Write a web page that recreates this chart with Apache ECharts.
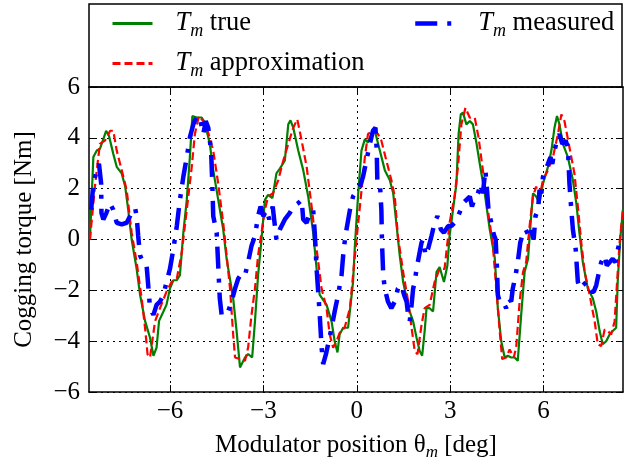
<!DOCTYPE html>
<html>
<head>
<meta charset="utf-8">
<script src="https://cdn.jsdelivr.net/npm/echarts@6/dist/echarts.min.js"></script>
<style>html,body{margin:0;padding:0;background:#fff;}#c{width:636px;height:466px;}</style>
</head>
<body>
<div id="c"></div>
<script>
// ---- data ----
const xTicks = [-6, -3, 0, 3, 6];
const yTicks = [-6, -4, -2, 0, 2, 4, 6];

const trueX = [-8.57,-8.46,-8.35,-8.25,-8.14,-8.05,-7.96,-7.82,-7.71,-7.55,-7.44,-7.34,-7.23,-7.07,-6.96,-6.8,-6.64,-6.53,-6.43,-6.35,-6.21,-6.11,-6.0,-5.89,-5.78,-5.68,-5.57,-5.46,-5.36,-5.28,-5.14,-4.98,-4.88,-4.72,-4.61,-4.45,-4.29,-4.18,-3.97,-3.86,-3.75,-3.59,-3.49,-3.36,-3.27,-3.17,-3.06,-2.95,-2.85,-2.71,-2.58,-2.47,-2.31,-2.2,-2.13,-2.04,-1.88,-1.72,-1.56,-1.4,-1.27,-1.19,-0.97,-0.81,-0.71,-0.62,-0.55,-0.44,-0.28,-0.12,-0.06,0.04,0.15,0.26,0.36,0.47,0.58,0.74,0.9,1.06,1.17,1.27,1.38,1.49,1.6,1.7,1.81,1.92,2.02,2.1,2.18,2.24,2.34,2.45,2.56,2.66,2.8,2.91,2.98,3.09,3.2,3.27,3.34,3.41,3.52,3.63,3.73,3.84,3.95,4.11,4.27,4.43,4.53,4.64,4.75,4.85,4.96,5.07,5.17,5.28,5.39,5.5,5.6,5.66,5.76,5.87,5.98,6.14,6.25,6.35,6.43,6.51,6.62,6.78,6.94,7.05,7.15,7.26,7.42,7.58,7.69,7.8,7.9,8.01,8.12,8.22,8.33,8.38,8.46,8.55];
const trueY = [0,3.25,3.5,3.57,3.95,4.28,4.08,3.37,2.86,2.6,2.1,1.17,0,-1.15,-2.17,-3.2,-3.86,-4.57,-4.25,-3.2,-2.83,-2.56,-1.93,-1.6,-1.6,-1.4,0.27,1.56,3.25,4.86,4.8,4.8,4.6,3.76,2.73,1.56,0.4,-0.76,-2.31,-3.6,-5.03,-4.64,-4.5,-4.64,-3.22,-1.41,0,1.56,1.76,1.63,2.6,2.79,3.11,4.53,4.69,4.4,3.5,2.73,1.69,0.27,-1.41,-2.18,-2.57,-3.22,-4.0,-4.44,-3.73,-3.47,-3.47,-1.67,-0.24,1.7,3.5,3.95,3.82,4.15,4.28,3.5,2.73,2.34,1.82,0.66,-0.63,-1.67,-2.31,-2.83,-3.22,-3.86,-4.38,-4.57,-3.6,-2.7,-2.7,-2.83,-1.28,-1.08,-1.67,-1.02,0.14,1.17,2.2,4.15,4.92,4.99,4.53,4.66,4.53,3.82,2.98,1.82,0.4,-0.7,-2.7,-4.0,-4.64,-4.57,-4.64,-4.64,-4.77,-2.96,-1.28,-0.76,0.92,1.82,1.69,1.43,2.2,2.86,3.5,4.4,4.86,4.53,3.76,3.24,2.34,1.43,0.27,-0.89,-1.93,-2.31,-2.83,-3.6,-4.12,-4.0,-3.73,-3.6,-3.47,-1.67,0,1.2];

const approxX = [-8.57,-8.4,-8.25,-8.09,-7.92,-7.82,-7.71,-7.55,-7.39,-7.23,-7.07,-6.91,-6.8,-6.72,-6.64,-6.48,-6.32,-6.11,-5.95,-5.78,-5.62,-5.46,-5.3,-5.2,-5.07,-4.93,-4.79,-4.61,-4.45,-4.29,-4.18,-4.07,-3.97,-3.91,-3.75,-3.59,-3.49,-3.38,-3.27,-3.17,-3.06,-2.95,-2.85,-2.69,-2.52,-2.36,-2.2,-2.04,-1.91,-1.77,-1.61,-1.45,-1.29,-1.13,-0.97,-0.87,-0.76,-0.65,-0.55,-0.39,-0.22,-0.06,0.1,0.26,0.36,0.52,0.68,0.79,0.95,1.11,1.22,1.32,1.49,1.65,1.76,1.86,1.95,2.08,2.18,2.34,2.5,2.66,2.82,2.98,3.14,3.25,3.36,3.49,3.63,3.79,3.91,4.05,4.21,4.37,4.48,4.59,4.67,4.8,4.91,5.04,5.12,5.23,5.34,5.44,5.55,5.66,5.76,5.87,5.98,6.14,6.3,6.46,6.57,6.67,6.83,6.99,7.1,7.21,7.32,7.48,7.64,7.74,7.85,7.96,8.06,8.17,8.28,8.36,8.44,8.55];
const approxY = [0,2.2,3.76,3.89,4.28,4.28,3.5,2.73,1.95,0.27,-0.89,-2.31,-3.47,-4.51,-4.64,-3.22,-2.7,-2.05,-1.67,-1.54,-0.5,1.17,2.86,4.15,4.86,4.66,4.28,3.5,2.2,0.66,-0.63,-1.93,-3.73,-4.64,-4.7,-4.77,-4.25,-2.96,-1.93,-0.63,0.27,1.17,1.69,1.82,2.34,3.11,3.76,4.4,4.73,3.89,2.86,1.3,-0.37,-1.93,-2.7,-3.73,-4.25,-4.0,-3.67,-3.47,-2.7,-0.63,1.3,3.24,4.15,4.28,4.15,3.89,3.11,2.34,1.69,0.14,-1.28,-2.44,-3.47,-4.38,-4.51,-3.35,-2.7,-2.57,-1.67,-1.15,-1.15,0.66,1.69,2.86,4.53,5.18,4.79,4.79,4.02,2.73,1.17,-0.2,-1.93,-3.6,-4.7,-4.64,-4.32,-4.64,-4.25,-2.44,-1.28,-0.89,0.53,1.69,2.08,1.69,2.34,2.73,3.24,4.15,4.92,4.66,3.63,2.6,1.3,-0.12,-1.28,-2.18,-3.22,-4.12,-4.19,-3.54,-3.6,-3.73,-3.22,-1.67,-0.12,1.2];

const measX = [-8.53,-8.46,-8.35,-8.28,-8.21,-8.2,-8.14,-8.04,-7.93,-7.82,-7.71,-7.55,-7.39,-7.23,-7.12,-7.07,-7.02,-6.96,-6.86,-6.75,-6.69,-6.64,-6.53,-6.43,-6.32,-6.21,-6.11,-6.0,-5.89,-5.78,-5.68,-5.57,-5.46,-5.36,-5.25,-5.14,-5.04,-4.93,-4.85,-4.77,-4.68,-4.64,-4.61,-4.5,-4.45,-4.4,-4.34,-4.29,-4.13,-4.02,-3.91,-3.81,-3.7,-3.59,-3.49,-3.38,-3.27,-3.17,-3.09,-3.0,-2.9,-2.81,-2.7,-2.58,-2.47,-2.31,-2.15,-2.04,-1.88,-1.77,-1.72,-1.61,-1.51,-1.4,-1.35,-1.29,-1.24,-1.19,-1.13,-1.08,-0.99,-0.92,-0.81,-0.71,-0.6,-0.49,-0.42,-0.33,-0.22,-0.12,-0.01,0.1,0.2,0.31,0.42,0.52,0.6,0.64,0.66,0.74,0.79,0.81,0.85,0.9,1.0,1.11,1.22,1.32,1.43,1.52,1.6,1.65,1.7,1.76,1.81,1.86,1.92,2.02,2.08,2.13,2.21,2.29,2.4,2.5,2.59,2.7,2.8,2.93,3.04,3.14,3.25,3.34,3.41,3.52,3.63,3.7,3.79,3.89,3.98,4.05,4.13,4.19,4.23,4.32,4.4,4.46,4.5,4.53,4.59,4.69,4.8,4.88,4.96,5.01,5.1,5.17,5.25,5.34,5.42,5.53,5.6,5.68,5.74,5.82,5.87,5.93,5.98,6.06,6.14,6.22,6.28,6.35,6.43,6.51,6.6,6.71,6.78,6.83,6.89,6.94,7.03,7.1,7.18,7.26,7.37,7.46,7.53,7.61,7.69,7.78,7.85,7.96,8.03,8.12,8.22,8.31,8.36,8.44,8.49];
const measY = [1.17,2.2,2.73,2.98,2.2,1.05,0.79,1.05,1.43,1.17,0.66,0.6,0.66,1.05,1.24,0.92,0.14,-0.63,-0.89,-1.02,-1.93,-2.7,-2.96,-2.57,-2.44,-2.18,-1.67,-1.15,-0.37,0.53,1.56,2.47,3.24,4.02,4.53,4.86,4.79,4.15,4.66,4.4,3.5,2.2,0.92,0.27,-1.02,-2.31,-2.96,-2.83,-2.83,-2.44,-1.93,-1.54,-1.34,-1.41,-0.89,-0.24,0.14,0.92,1.3,0.92,1.17,0.79,1.3,0,0.4,0.79,1.05,1.3,1.43,1.56,0.79,0.66,1.05,1.17,0.27,-1.15,-2.05,-2.96,-4.25,-4.9,-4.51,-4.12,-3.47,-2.83,-2.18,-1.41,-0.37,0.4,1.17,1.69,1.9,2.08,2.47,3.11,3.76,4.28,4.4,3.5,2.34,2.27,1.17,-0.12,-1.41,-1.93,-2.44,-2.7,-2.44,-1.93,-1.8,-2.18,-2.44,-2.96,-3.22,-2.57,-1.93,-1.67,-1.15,-0.5,-0.12,0,-0.63,-0.37,0.14,0.66,0.92,0.4,0.27,0.53,0.53,0.66,0.92,1.17,1.43,1.56,1.69,1.3,1.63,1.82,2.2,1.82,2.73,1.82,1.17,0.66,0.2,0,-1.02,-2.18,-2.44,-2.44,-2.7,-2.31,-2.44,-1.93,-1.41,-0.89,-0.12,0.27,0.4,0.14,0.4,0,0.92,1.17,1.95,1.82,2.47,2.73,2.98,3.24,2.98,3.5,3.89,4.15,3.76,3.89,3.63,2.2,1.17,0.4,-0.37,-1.67,-1.93,-1.8,-1.67,-1.8,-2.05,-2.05,-1.8,-1.28,-0.89,-0.63,-1.02,-0.89,-0.76,-0.89,-0.5,-0.12,0.14];

const seriesNames = ['Tm true', 'Tm approximation', 'Tm measured'];
// --------------------------------------

function zip(xs, ys) { return xs.map((x, i) => [x, ys[i]]); }
function fmt(v) { return v < 0 ? '\u2212' + (-v) : String(v); }

const FONT = '"Liberation Serif", "DejaVu Serif", serif';
const rich = {
  g: { width: 18 },
  t: { fontFamily: FONT, fontSize: 26.5, fontStyle: 'italic', color: '#000' },
  s: { fontFamily: FONT, fontSize: 18, fontStyle: 'italic', color: '#000', padding: [15, 0, 0, 0], lineHeight: 15 },
  n: { fontFamily: FONT, fontSize: 26.5, color: '#000' }
};
const axisSub = { fontFamily: FONT, fontSize: 17, fontStyle: 'italic', color: '#000', padding: [15, 0, 0, 0], lineHeight: 15 };
function legendFmt(name) {
  const rest = name.replace('Tm', '');
  return '{g|}{t|T}{s|m}{n|' + rest + '}';
}

const chart = echarts.init(document.getElementById('c'), null, { renderer: 'canvas' });

const axisCommon = {
  type: 'value',
  axisLine: { show: true, onZero: false, lineStyle: { color: '#000', width: 1.5 } },
  axisTick: { show: true, inside: true, length: 7, lineStyle: { color: '#000', width: 1 } }
};

const legendCommon = {
  orient: 'vertical', top: 2,
  itemWidth: 40, itemHeight: 14, itemGap: 7,
  formatter: legendFmt,
  itemStyle: { color: 'rgba(0,0,0,0)', borderWidth: 0, opacity: 0 },
  textStyle: { fontFamily: FONT, fontSize: 26.5, color: '#000', lineHeight: 30, rich: rich }
};

chart.setOption({
  animation: false,
  backgroundColor: '#fff',
  graphic: [{
    type: 'rect', z: 0,
    shape: { x: 89, y: 4, width: 533, height: 83 },
    style: { fill: '#fff', stroke: '#000', lineWidth: 1.5 }
  }],
  legend: [
    Object.assign({}, legendCommon, {
      data: [
        { name: seriesNames[0], lineStyle: { width: 3 } },
        { name: seriesNames[1], lineStyle: { width: 3 } }
      ],
      left: 106
    }),
    Object.assign({}, legendCommon, {
      data: [{ name: seriesNames[2], lineStyle: { width: 4.5 } }],
      left: 408
    })
  ],
  grid: { left: 89, right: 13, top: 87, bottom: 70, containLabel: false },
  xAxis: [
    Object.assign({}, axisCommon, {
      position: 'bottom', min: -8.6, max: 8.55,
      axisTick: Object.assign({}, axisCommon.axisTick, { customValues: xTicks }),
      axisLabel: { customValues: xTicks, formatter: fmt, fontFamily: FONT, fontSize: 25, color: '#000', margin: 7 },
      splitLine: { show: true, lineStyle: { color: '#000', width: 1, type: [2, 4] } },
      name: 'Modulator position \u03b8{s|m} [deg]',
      nameLocation: 'middle', nameGap: 32,
      nameTextStyle: { fontFamily: FONT, fontSize: 25, color: '#000', rich: { s: axisSub } }
    }),
    Object.assign({}, axisCommon, {
      position: 'top', min: -8.6, max: 8.55,
      axisTick: Object.assign({}, axisCommon.axisTick, { customValues: xTicks }),
      axisLabel: { show: false, customValues: xTicks },
      splitLine: { show: false }
    })
  ],
  yAxis: [
    Object.assign({}, axisCommon, {
      position: 'left', min: -6, max: 6, interval: 2,
      axisLabel: { formatter: fmt, fontFamily: FONT, fontSize: 25, color: '#000', margin: 9 },
      splitLine: { show: true, lineStyle: { color: '#000', width: 1, type: [2, 4] } },
      name: 'Cogging torque [Nm]', nameLocation: 'middle', nameRotate: 90, nameGap: 52,
      nameTextStyle: { fontFamily: FONT, fontSize: 25, color: '#000' }
    }),
    Object.assign({}, axisCommon, {
      position: 'right', min: -6, max: 6, interval: 2,
      axisLabel: { show: false },
      splitLine: { show: false }
    })
  ],
  series: [
    {
      name: seriesNames[0], type: 'line', data: zip(trueX, trueY),
      symbol: 'none', smooth: false, clip: true, z: 3,
      lineStyle: { color: '#008000', width: 2.2 }, itemStyle: { color: '#008000' }
    },
    {
      name: seriesNames[1], type: 'line', data: zip(approxX, approxY),
      symbol: 'none', clip: true, z: 4,
      lineStyle: { color: '#ff0000', width: 2.2, type: [8, 4] }, itemStyle: { color: '#ff0000' }
    },
    {
      name: seriesNames[2], type: 'line', data: zip(measX, measY),
      symbol: 'none', clip: true, z: 5,
      lineStyle: { color: '#0000ff', width: 4.5, type: [22, 10, 4, 10] }, itemStyle: { color: '#0000ff' }
    }
  ]
});
</script>
</body>
</html>
